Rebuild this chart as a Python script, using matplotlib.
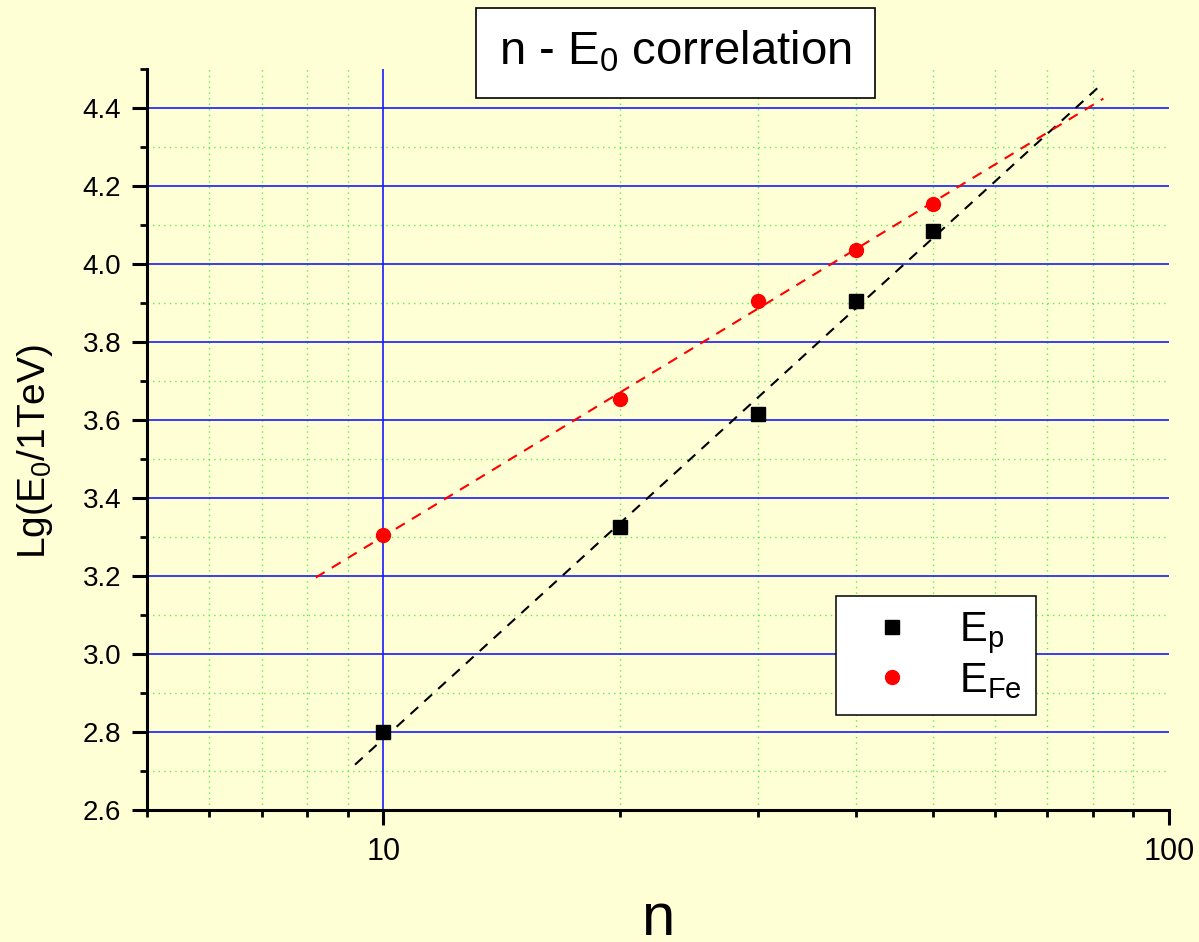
import numpy as np
import matplotlib
matplotlib.use("Agg")
import matplotlib.pyplot as plt
from matplotlib.ticker import LogLocator, NullFormatter, FixedLocator, MultipleLocator, FixedFormatter
from matplotlib.patches import Rectangle

plt.rcParams['font.family'] = ['Liberation Sans', 'DejaVu Sans']
plt.rcParams['mathtext.fontset'] = 'custom'
plt.rcParams['mathtext.rm'] = 'Liberation Sans'
plt.rcParams['mathtext.it'] = 'Liberation Sans'
plt.rcParams['mathtext.bf'] = 'Liberation Sans:bold'

# Multiplicity n and primary energy estimates, Lg(E0/1TeV)
n_values = [10, 20, 30, 40, 50]
lg_e_proton = [2.80, 3.325, 3.615, 3.905, 4.085]
lg_e_iron = [3.305, 3.655, 3.905, 4.035, 4.155]

# Ranges over which the fitted trend lines are drawn
fit_range_proton = (9.2, 82.5)
fit_range_iron = (8.2, 82.5)

x_major_ticks = [10, 100]
x_tick_labels = ["10", "100"]

bg = '#FFFFD5'
W, H = 1199, 942
fig = plt.figure(figsize=(W / 100, H / 100), dpi=100, facecolor=bg)
ax = fig.add_axes([147 / W, 1 - 810 / H, (1169 - 147) / W, (810 - 69) / H])
ax.set_facecolor(bg)

ax.set_xscale('log')
xmin, xmax = 5, 100
ymin, ymax = 2.6, 4.5
ax.set_xlim(xmin, xmax)
ax.set_ylim(ymin, ymax)

ax.xaxis.set_major_locator(FixedLocator(x_major_ticks))
ax.xaxis.set_major_formatter(FixedFormatter(x_tick_labels))
ax.xaxis.set_minor_locator(LogLocator(base=10, subs=np.arange(2, 10)))
ax.xaxis.set_minor_formatter(NullFormatter())
ax.yaxis.set_major_locator(FixedLocator(np.arange(2.6, 4.41, 0.2)))
ax.yaxis.set_minor_locator(MultipleLocator(0.1))
ax.yaxis.set_major_formatter(plt.FuncFormatter(lambda v, p: f"{v:.1f}"))

for side in ('top', 'right'):
    ax.spines[side].set_visible(False)
for side in ('left', 'bottom'):
    ax.spines[side].set_linewidth(2.2)

ax.tick_params(which='major', direction='out', length=10.5, width=2.2, labelsize=20, pad=8)
ax.tick_params(which='minor', direction='out', length=5, width=2)
ax.tick_params(axis='x', which='major', pad=9, labelsize=22)

# Grid: solid blue at major ticks, dotted green at minor ticks, only strictly inside the frame
major_kw = dict(color='#1a1aff', linestyle='-', linewidth=1.2, zorder=1)
minor_kw = dict(color='#55ee55', linestyle=(0, (1, 3)), linewidth=1.0, zorder=0.9)
eps = 1e-9
for v in ax.xaxis.get_majorticklocs():
    if xmin < v < xmax * (1 - 1e-6):
        ax.axvline(v, **major_kw)
for v in ax.xaxis.get_minorticklocs():
    if xmin * (1 + 1e-6) < v < xmax * (1 - 1e-6) and v not in x_major_ticks:
        ax.axvline(v, **minor_kw)
for v in ax.yaxis.get_majorticklocs():
    if ymin + eps < v < ymax - eps:
        ax.axhline(v, **major_kw)
major_y = ax.yaxis.get_majorticklocs()
for v in ax.yaxis.get_minorticklocs():
    if ymin + eps < v < ymax - 1e-6 and np.min(np.abs(major_y - v)) > 1e-6:
        ax.axhline(v, **minor_kw)

# Linear fits in log(n)
lx = np.log10(n_values)
for vals, rng, col in ((lg_e_proton, fit_range_proton, 'black'),
                       (lg_e_iron, fit_range_iron, 'red')):
    k, b = np.polyfit(lx, vals, 1)
    xs = np.array(rng)
    ax.plot(xs, k * np.log10(xs) + b, color=col, linestyle=(0, (5, 4)), linewidth=1.5, zorder=3)

ax.plot(n_values, lg_e_proton, 's', color='black', markersize=9.5, linestyle='none',
        label=r'E$_{p}$', zorder=4)
ax.plot(n_values, lg_e_iron, 'o', color='red', markersize=10, linestyle='none',
        label=r'E$_{Fe}$', zorder=4)

leg = ax.legend(loc='upper left', bbox_to_anchor=(836 / W, 1 - 596 / H),
                bbox_transform=fig.transFigure, borderaxespad=0, fontsize=30,
                fancybox=False, framealpha=1, edgecolor='black', handletextpad=0.6,
                borderpad=0.35, labelspacing=0.1, handlelength=2.0)
leg.get_frame().set_linewidth(1.1)
leg.set_zorder(6)

# Axis titles
fig.text(35 / W, 1 - 452 / H, r'Lg(E$_0$/1TeV)', rotation=90, ha='center', va='center', fontsize=28)
fig.text(658 / W, 1 - 935 / H, 'n', ha='center', va='baseline', fontsize=43)

# Boxed chart title
fig.patches.append(Rectangle((476 / W, 1 - 98 / H), 399 / W, 90 / H, transform=fig.transFigure,
                             facecolor='white', edgecolor='black', linewidth=1.2, zorder=5))
fig.text(675.5 / W, 1 - 52 / H, r'n - E$_0$ correlation', ha='center', va='center',
         fontsize=34, zorder=6)

fig.savefig('out.png', dpi=100, facecolor=bg)
